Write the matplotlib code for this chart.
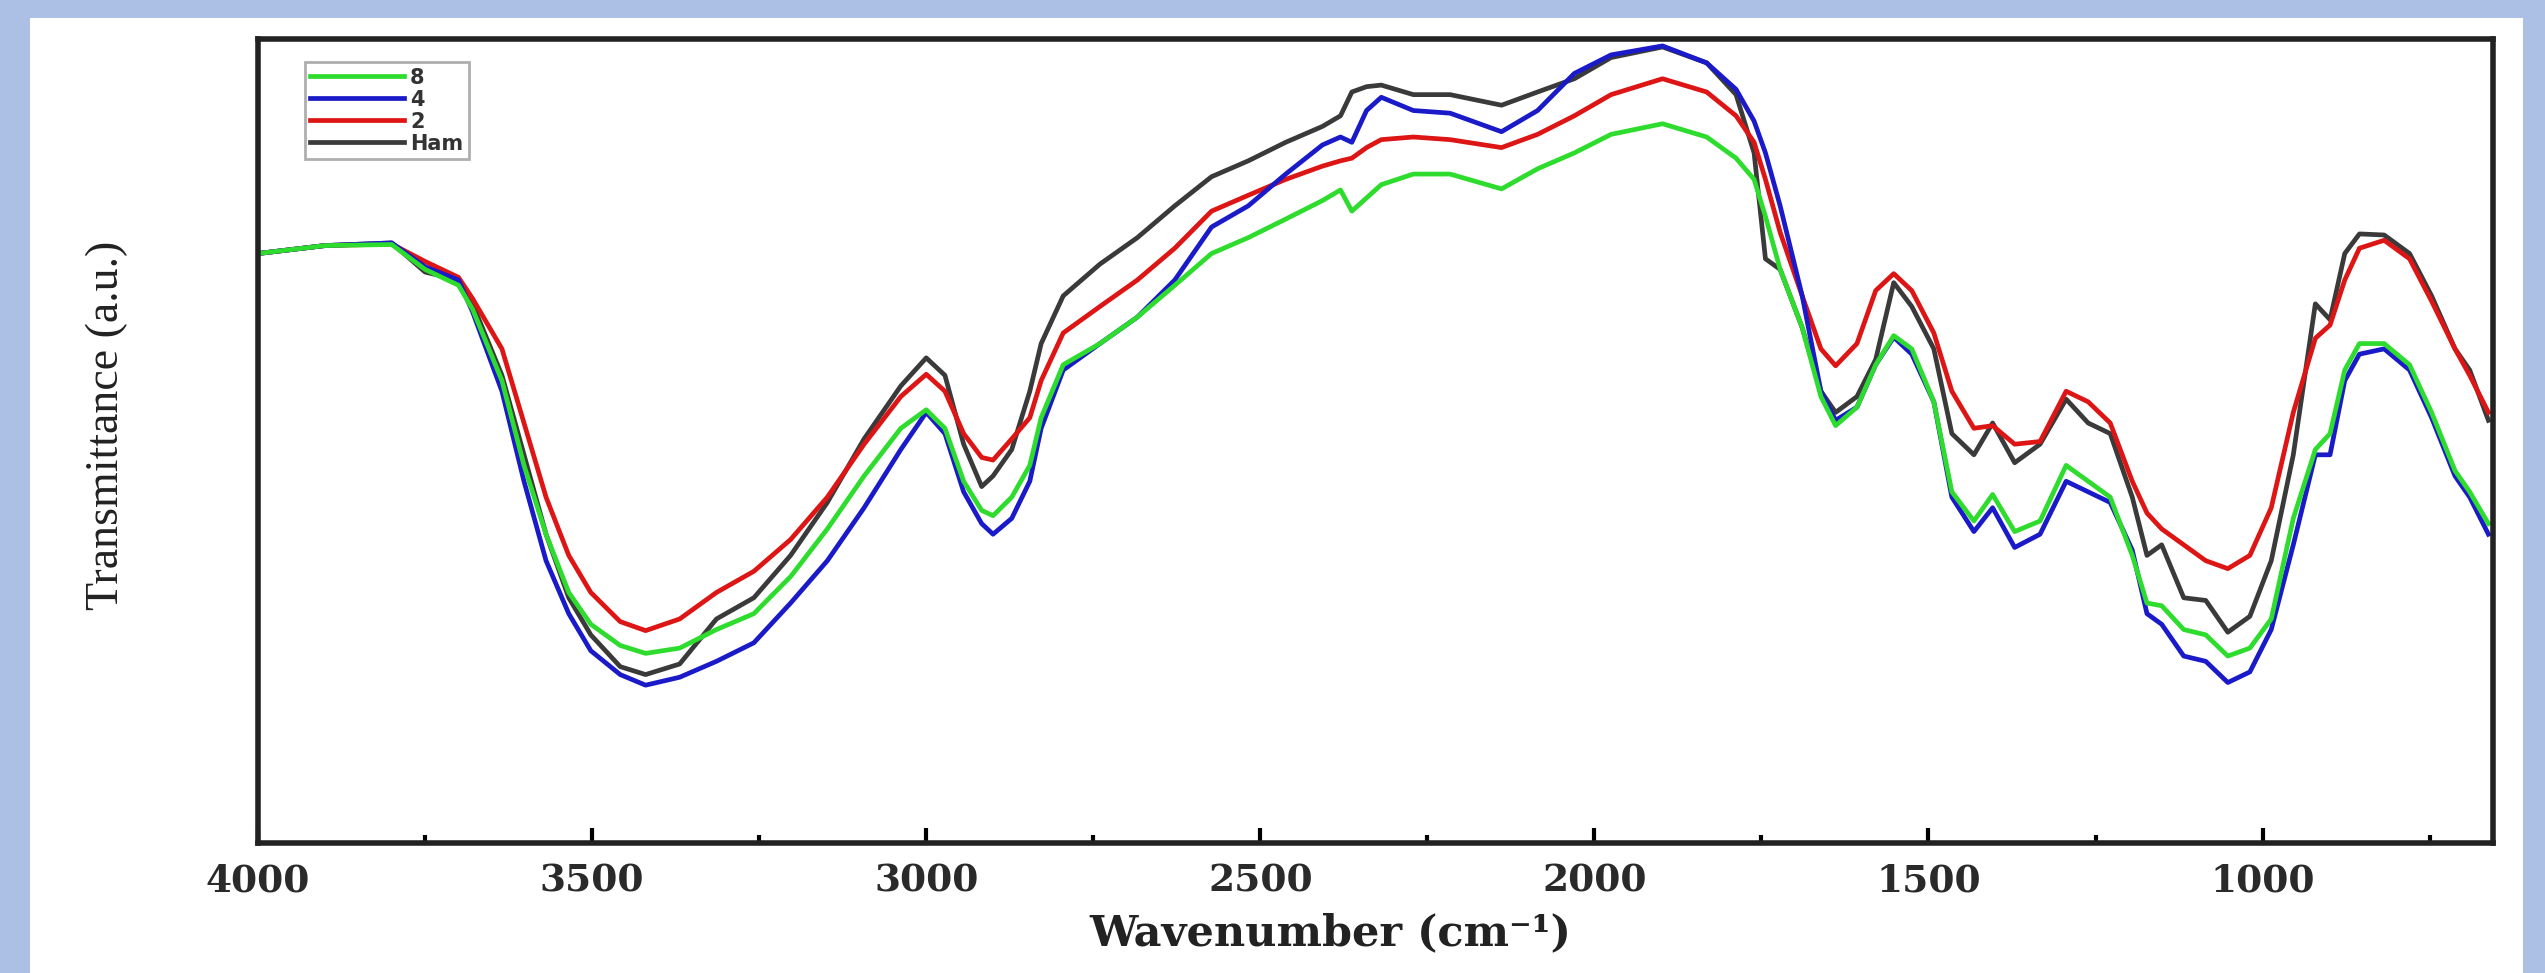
#FTIR spectra of Ham samples
import matplotlib
matplotlib.use('Agg')
import matplotlib.pyplot as plt
from matplotlib.patches import Rectangle
from matplotlib.ticker import MultipleLocator

#Wavenumber (cm-1)
wavenumber = [4000, 3900, 3800, 3750, 3700, 3679, 3635, 3602, 3569, 3535,
              3502, 3458, 3420, 3369, 3314, 3258, 3203, 3148, 3093, 3038,
              3000, 2972, 2944, 2917, 2900, 2872, 2845, 2828, 2795, 2740,
              2684, 2628, 2573, 2518, 2462, 2407, 2380, 2363, 2341, 2319,
              2271, 2216, 2139, 2085, 2030, 1975, 1898, 1832, 1788, 1761,
              1744, 1722, 1689, 1661, 1639, 1607, 1579, 1552, 1525, 1492,
              1465, 1432, 1404, 1371, 1333, 1294, 1261, 1228, 1195, 1173,
              1151, 1118, 1085, 1052, 1019, 987, 954, 921, 899, 877,
              855, 818, 780, 747, 712, 690, 662]

#Transmittance (a.u.) ---#8
T_8 = [1.113, 1.128, 1.130, 1.083, 1.053, 1.008, 0.873, 0.713, 0.583, 0.473,
       0.413, 0.373, 0.358, 0.368, 0.403, 0.433, 0.503, 0.593, 0.693, 0.783,
       0.818, 0.783, 0.683, 0.628, 0.618, 0.653, 0.713, 0.803, 0.903, 0.943,
       0.993, 1.053, 1.113, 1.143, 1.178, 1.213, 1.233, 1.193, 1.218, 1.243,
       1.263, 1.263, 1.235, 1.273, 1.303, 1.338, 1.358, 1.333, 1.293, 1.253,
       1.183, 1.083, 0.973, 0.843, 0.788, 0.823, 0.903, 0.958, 0.933, 0.833,
       0.663, 0.608, 0.658, 0.588, 0.608, 0.713, 0.683, 0.653, 0.543, 0.453,
       0.448, 0.403, 0.393, 0.353, 0.368, 0.423, 0.613, 0.743, 0.773, 0.893,
       0.943, 0.943, 0.903, 0.813, 0.703, 0.663, 0.603]

#Transmittance (a.u.) ---#4
T_4 = [1.113, 1.128, 1.133, 1.088, 1.063, 1.003, 0.853, 0.683, 0.533, 0.433,
       0.363, 0.318, 0.298, 0.313, 0.343, 0.378, 0.453, 0.533, 0.633, 0.743,
       0.813, 0.773, 0.663, 0.603, 0.583, 0.613, 0.683, 0.783, 0.893, 0.943,
       0.993, 1.063, 1.163, 1.203, 1.263, 1.318, 1.333, 1.323, 1.383, 1.408,
       1.383, 1.378, 1.343, 1.383, 1.453, 1.488, 1.505, 1.473, 1.423, 1.363,
       1.303, 1.203, 1.033, 0.853, 0.798, 0.823, 0.903, 0.955, 0.923, 0.833,
       0.653, 0.588, 0.633, 0.558, 0.583, 0.683, 0.663, 0.643, 0.553, 0.433,
       0.413, 0.353, 0.343, 0.303, 0.323, 0.403, 0.563, 0.733, 0.733, 0.873,
       0.923, 0.933, 0.893, 0.803, 0.693, 0.653, 0.583]

#Transmittance (a.u.) ---#2
T_2 = [1.113, 1.128, 1.131, 1.098, 1.068, 1.028, 0.933, 0.793, 0.653, 0.543,
       0.473, 0.418, 0.401, 0.423, 0.473, 0.513, 0.573, 0.653, 0.753, 0.843,
       0.885, 0.853, 0.773, 0.728, 0.723, 0.763, 0.803, 0.873, 0.963, 1.013,
       1.063, 1.123, 1.193, 1.223, 1.253, 1.278, 1.288, 1.293, 1.313, 1.328,
       1.333, 1.328, 1.313, 1.338, 1.373, 1.413, 1.443, 1.418, 1.373, 1.323,
       1.253, 1.153, 1.033, 0.933, 0.901, 0.943, 1.043, 1.075, 1.043, 0.963,
       0.853, 0.783, 0.788, 0.753, 0.758, 0.853, 0.833, 0.793, 0.683, 0.623,
       0.593, 0.563, 0.533, 0.518, 0.543, 0.633, 0.813, 0.953, 0.978, 1.063,
       1.123, 1.138, 1.103, 1.023, 0.933, 0.883, 0.813]

#Transmittance (a.u.) ---#Ham
T_Ham = [1.113, 1.128, 1.133, 1.078, 1.063, 1.018, 0.883, 0.733, 0.583, 0.463,
         0.393, 0.333, 0.318, 0.338, 0.423, 0.463, 0.543, 0.643, 0.763, 0.863,
         0.916, 0.883, 0.753, 0.673, 0.693, 0.743, 0.853, 0.943, 1.033, 1.093,
         1.143, 1.203, 1.258, 1.288, 1.323, 1.353, 1.373, 1.418, 1.428, 1.431,
         1.413, 1.413, 1.393, 1.418, 1.443, 1.483, 1.503, 1.473, 1.413, 1.303,
         1.103, 1.083, 0.973, 0.853, 0.813, 0.843, 0.913, 1.058, 1.013, 0.933,
         0.773, 0.733, 0.793, 0.718, 0.753, 0.838, 0.793, 0.773, 0.653, 0.543,
         0.563, 0.463, 0.458, 0.398, 0.428, 0.533, 0.733, 1.018, 0.988, 1.113,
         1.150, 1.148, 1.113, 1.033, 0.933, 0.893, 0.798]

fig = plt.figure(figsize=(25.45, 9.73), dpi=100, facecolor='#abc0e4')
fig.patches.append(Rectangle((0.0118, 0.0), 0.9796, 0.9815, transform=fig.transFigure,
                             facecolor='white', edgecolor='none', zorder=-10))

ax = fig.add_axes([0.1014, 0.1336, 0.8782, 0.8263])
ax.set_facecolor('white')

lw = 3.4
l_ham, = ax.plot(wavenumber, T_Ham, color='#3a3a3a', lw=lw, label='Ham')
l_2, = ax.plot(wavenumber, T_2, color='#dd1515', lw=lw, label='2')
l_4, = ax.plot(wavenumber, T_4, color='#1a1ac8', lw=lw, label='4')
l_8, = ax.plot(wavenumber, T_8, color='#2edc2e', lw=lw, label='8')

ax.set_xlim(4000, 655)
ax.set_ylim(0, 1.518)

for s in ax.spines.values():
    s.set_linewidth(4)
    s.set_color('#222222')

ax.xaxis.set_major_locator(MultipleLocator(500))
ax.xaxis.set_minor_locator(MultipleLocator(250))
ax.tick_params(axis='x', which='major', direction='in', length=11, width=3,
               pad=14, labelsize=27, top=False)
ax.tick_params(axis='x', which='minor', direction='in', length=6, width=3, top=False)
ax.tick_params(axis='y', which='both', left=False, right=False, labelleft=False)
for lab in ax.get_xticklabels():
    lab.set_fontfamily('DejaVu Serif')
    lab.set_fontweight('bold')
    lab.set_color('#2a2a2a')

ax.set_xlabel('Wavenumber (cm⁻¹)', fontfamily='DejaVu Serif', fontweight='bold',
              fontsize=31, color='#222222', va='top')
ax.xaxis.set_label_coords(0.48, -0.086)
ax.set_ylabel('Transmittance (a.u.)', fontfamily='Liberation Serif', fontsize=33,
              color='#222222')
ax.yaxis.set_label_coords(-0.058, 0.52)

leg = ax.legend(handles=[l_8, l_4, l_2, l_ham], loc='upper left',
                bbox_to_anchor=(0.021, 0.971), borderaxespad=0, fancybox=False,
                frameon=True, edgecolor='#9a9a9a', handlelength=4.5,
                handletextpad=0.3, labelspacing=0.1, borderpad=0.25,
                prop={'family': 'DejaVu Sans', 'size': 15, 'weight': 'bold'})
leg.get_frame().set_linewidth(2)
for t in leg.get_texts():
    t.set_color('#333333')

plt.savefig('out.png', dpi=100, facecolor=fig.get_facecolor())
